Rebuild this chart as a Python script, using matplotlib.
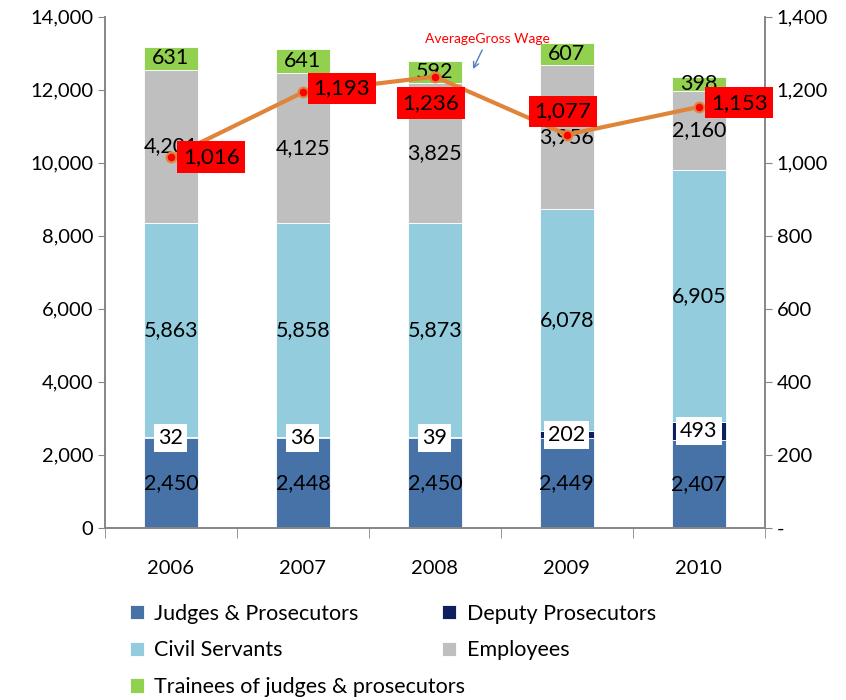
import matplotlib.pyplot as plt
import numpy as np

plt.rcParams['font.family'] = ['Lato', 'DejaVu Sans']

years = ["2006", "2007", "2008", "2009", "2010"]
judges = [2450, 2448, 2450, 2449, 2407]
deputy = [32, 36, 39, 202, 493]
civil = [5863, 5858, 5873, 6078, 6905]
employees = [4201, 4125, 3825, 3956, 2160]
trainees = [631, 641, 592, 607, 398]
wage = [1016, 1193, 1236, 1077, 1153]

# label offsets (points) for the red wage boxes
wage_offsets = [(29, 0), (28, 3), (-3, -19), (-3, 17), (29, 3)]

c_judges = "#4672A8"
c_deputy = "#0D1F5E"
c_civil = "#93CDDD"
c_emp = "#BFBFBF"
c_train = "#92D050"
c_axis = "#868686"

fig = plt.figure(figsize=(8.46, 7), dpi=100)
ax = fig.add_axes([0.124, 0.246, 0.780, 0.730])
x = np.arange(len(years))
w = 0.41

series = [(judges, c_judges, "Judges & Prosecutors"),
          (deputy, c_deputy, "Deputy Prosecutors"),
          (civil, c_civil, "Civil Servants"),
          (employees, c_emp, "Employees"),
          (trainees, c_train, "Trainees of judges & prosecutors")]

bottom = np.zeros(len(years))
handles = {}
for vals, col, name in series:
    vals = np.array(vals)
    b = ax.bar(x, vals, w, bottom=bottom, color=col, edgecolor="white", linewidth=0.6, label=name, zorder=2)
    handles[name] = b
    for i, v in enumerate(vals):
        yc = bottom[i] + v / 2
        if name == "Deputy Prosecutors":
            ax.text(x[i], yc, f"{v:,}", ha="center", va="center", fontsize=15.5,
                    bbox=dict(facecolor="white", edgecolor="none", pad=3), zorder=4)
        else:
            ax.text(x[i], yc, f"{v:,}", ha="center", va="center", fontsize=15.5, zorder=4)
    bottom = bottom + vals

ax.set_xlim(-0.5, len(years) - 0.5)
ax.set_ylim(0, 14000)
ax.set_yticks(np.arange(0, 14001, 2000))
ax.set_yticklabels([f"{v:,}" for v in range(0, 14001, 2000)], fontsize=14.5)
ax.set_xticks(x)
ax.set_xticklabels(years, fontsize=14.5)
ax.set_xticks(np.arange(-0.5, len(years)), minor=True)
ax.tick_params(axis="x", which="major", length=0, pad=23)
ax.tick_params(axis="x", which="minor", length=7, color=c_axis)
ax.tick_params(axis="y", length=5, color=c_axis)
ax.spines["top"].set_visible(False)
for s in ["left", "bottom", "right"]:
    ax.spines[s].set_color(c_axis)
    ax.spines[s].set_linewidth(1.2)

ax2 = ax.twinx()
ax2.set_ylim(0, 1400)
ax2.set_yticks(np.arange(0, 1401, 200))
ax2.set_yticklabels(["-"] + [f"{v:,}" for v in range(200, 1401, 200)], fontsize=14.5)
ax2.tick_params(axis="y", length=5, color=c_axis)
ax2.spines["top"].set_visible(False)
for s in ["left", "bottom", "right"]:
    ax2.spines[s].set_color(c_axis)
    ax2.spines[s].set_linewidth(1.2)

ax2.plot(x, wage, color="#E0843A", linewidth=3, marker="o", markersize=7,
         markerfacecolor="red", markeredgecolor="#E0843A", markeredgewidth=1.5, zorder=3)
for i, v in enumerate(wage):
    ax2.annotate(f"{v:,}", (x[i], v), xytext=wage_offsets[i], textcoords="offset points",
                 ha="center", va="center", fontsize=16,
                 bbox=dict(facecolor="red", edgecolor="none", pad=4), zorder=5)

ax2.annotate("AverageGross Wage", xy=(2.28, 1250), xytext=(2.4, 1340),
             textcoords="data", color="red", fontsize=10, ha="center", va="center",
             arrowprops=dict(arrowstyle="->", color="#4F81BD", lw=1))

# legend in two separate columns
leg_kw = dict(loc="upper left", frameon=False, fontsize=15.5, handlelength=0.65,
              handleheight=0.65, handletextpad=0.5, labelspacing=0.78, borderaxespad=0)
col1 = ["Judges & Prosecutors", "Civil Servants", "Trainees of judges & prosecutors"]
col2 = ["Deputy Prosecutors", "Employees"]
leg1 = fig.legend([handles[n] for n in col1], col1, bbox_to_anchor=(0.143, 0.15), **leg_kw)
fig.legend([handles[n] for n in col2], col2, bbox_to_anchor=(0.512, 0.15), **leg_kw)

fig.savefig("out.png", dpi=100)
